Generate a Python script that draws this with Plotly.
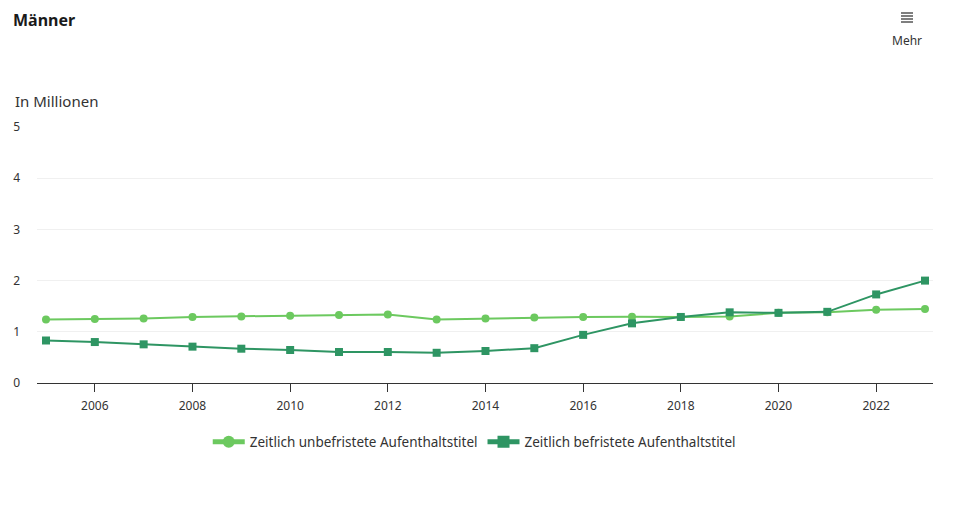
import plotly.graph_objects as go

years = list(range(2005, 2024))
unbefristet = [1.24, 1.25, 1.26, 1.29, 1.30, 1.315, 1.33, 1.34, 1.24, 1.26,
               1.28, 1.29, 1.295, 1.29, 1.30, 1.37, 1.38, 1.43, 1.445]
befristet = [0.83, 0.80, 0.755, 0.71, 0.67, 0.645, 0.605, 0.605, 0.59, 0.625,
             0.68, 0.94, 1.165, 1.29, 1.38, 1.37, 1.39, 1.73, 2.0]
x_ticks = list(range(2006, 2024, 2))
y_ticks = [0, 1, 2, 3, 4, 5]

LIGHT = "#6CC95F"
DARK = "#2E9563"
FONT = "Noto Sans"

# page body adds an 8px offset; compensate
OFF = 8
ML, MR, MT, MB = 37 - OFF, 35 + OFF, 127 - OFF, 126 + OFF
W, H = 968, 509
pw = W - ML - MR
ph = H - MT - MB


def px(x):
    return (x - OFF - ML) / pw


def py(y):
    return (H - (y - OFF) - MB) / ph


fig = go.Figure()
fig.add_trace(go.Scatter(
    x=years, y=unbefristet, name="Zeitlich unbefristete Aufenthaltstitel",
    mode="lines+markers", line=dict(color=LIGHT, width=2),
    marker=dict(symbol="circle", size=8, color=LIGHT),
))
fig.add_trace(go.Scatter(
    x=years, y=befristet, name="Zeitlich befristete Aufenthaltstitel",
    mode="lines+markers", line=dict(color=DARK, width=2),
    marker=dict(symbol="square", size=8, color=DARK),
))

# hamburger "menu" icon
icon_shapes = [
    dict(type="line", xref="paper", yref="paper",
         x0=px(901), x1=px(913), y0=py(yy), y1=py(yy),
         line=dict(color="#555555", width=1.5))
    for yy in (13, 16, 19, 22)
]

fig.update_layout(
    width=W, height=H,
    margin=dict(l=ML, r=MR, t=MT, b=MB),
    paper_bgcolor="white", plot_bgcolor="white",
    font=dict(family=FONT, size=12, color="#333333"),
    showlegend=True,
    legend=dict(orientation="h", x=0.488, xanchor="center", y=-0.17, yanchor="top",
                font=dict(size=13.5, color="#333333"), itemwidth=32,
                itemsizing="constant"),
    xaxis=dict(
        range=[2004.816, 2023.164], tickvals=x_ticks,
        ticktext=[str(t) for t in x_ticks], automargin=False,
        showgrid=False, zeroline=False, showline=True, linecolor="#333333",
        linewidth=1, ticks="outside", ticklen=8, tickcolor="#333333",
        tickfont=dict(size=12, color="#333333"), ticklabelstandoff=4,
    ),
    yaxis=dict(
        range=[0, 5], tickvals=y_ticks, showgrid=True, gridcolor="#F0F0F0",
        gridwidth=1, zeroline=False, showline=False, ticks="", automargin=False,
        tickfont=dict(size=12, color="#333333"), ticklabelstandoff=16,
    ),
    shapes=icon_shapes,
    annotations=[
        dict(text="<b>Männer</b>", x=px(11), y=py(20), xref="paper", yref="paper",
             showarrow=False, xanchor="left", yanchor="middle",
             font=dict(size=16, color="#1a1a1a")),
        dict(text="In Millionen", x=px(13), y=py(101), xref="paper", yref="paper",
             showarrow=False, xanchor="left", yanchor="middle",
             font=dict(size=15, color="#333333")),
        dict(text="Mehr", x=px(907), y=py(40), xref="paper", yref="paper",
             showarrow=False, xanchor="center", yanchor="middle",
             font=dict(size=12, color="#333333")),
    ],
)

fig.write_html("out.html")
